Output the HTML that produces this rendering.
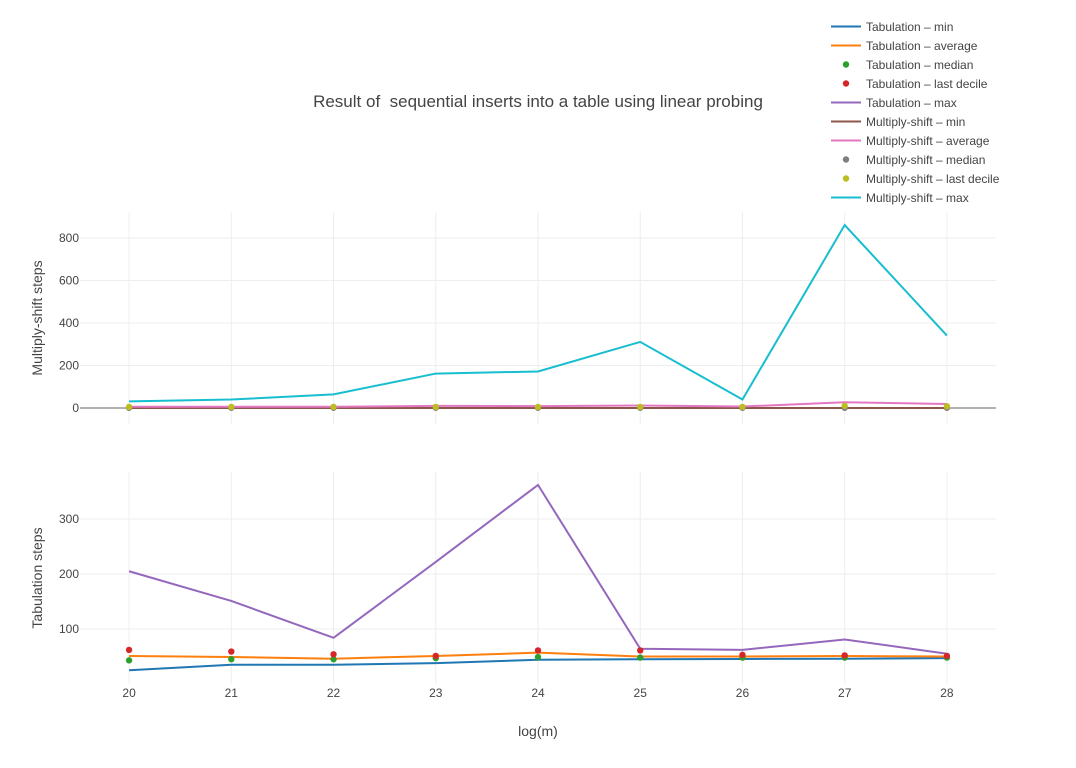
<!DOCTYPE html>
<html><head><meta charset="utf-8"><style>
body{margin:0;background:#fff;font-family:"Liberation Sans",sans-serif;}
svg text{font-family:"Liberation Sans",sans-serif;fill:#444;}
</style></head><body>
<svg id="chart" width="1076" height="763" xmlns="http://www.w3.org/2000/svg">
<text x="538" y="107" font-size="17" text-anchor="middle" style="white-space:pre">Result of  sequential inserts into a table using linear probing</text>
<text transform="translate(42,318) rotate(-90)" font-size="14" text-anchor="middle">Multiply-shift steps</text>
<text transform="translate(42,578) rotate(-90)" font-size="14" text-anchor="middle">Tabulation steps</text>
<text x="538" y="736" font-size="14" text-anchor="middle">log(m)</text>
<g id="grid"></g><g id="marks"></g><g id="legend"></g>
</svg>
<script>
const xs=[20,21,22,23,24,25,26,27,28];
const msMin=[0,0,0,0,0,0,0,0,0];
const msAvg=[6,6,6,10,9,12,7,27,19];
const msMedian=[1,1,1,1,1,1,1,1,1];
const msDecile=[5,5,5,5,5,5,5,10,8];
const msMax=[31,40,64,162,172,311,40,861,341];
const tbMin=[25,35,35,38,44,45,45.5,46,47];
const tbAvg=[51,49,46,51,57,50,50,51,50];
const tbMedian=[43,45,45,47,49,48,48,48,48];
const tbDecile=[62,59,54,51,61,61,53,52,51];
const tbMax=[205,151,84,222,362,64,62,81,55];
const topTicks=[0,200,400,600,800];
const botTicks=[100,200,300];
const NS='http://www.w3.org/2000/svg';
const X=v=>80+(v-19.52)/(28.48-19.52)*916;
const YT=v=>408-v*0.2125;
const YB=v=>684-v*0.55;
function el(t,a,p){const e=document.createElementNS(NS,t);for(const k in a)e.setAttribute(k,a[k]);p.appendChild(e);return e;}
const g=document.getElementById('grid'),m=document.getElementById('marks'),lg=document.getElementById('legend');
[[212,424],[472,684]].forEach(([a,b])=>xs.forEach(x=>{const l=el('line',{x1:X(x),x2:X(x),y1:a,y2:b,stroke:'#eee'},g);

}));
topTicks.forEach(v=>{if(v>0){const l=el('line',{x1:80,x2:996,y1:YT(v),y2:YT(v),stroke:'#eee'},g);

}
const t=el('text',{x:79,y:YT(v)+4,'font-size':12,'text-anchor':'end'},g);t.textContent=v;

});
const zl=el('line',{x1:80,x2:996,y1:YT(0),y2:YT(0),stroke:'#999','stroke-width':1.5},g);


botTicks.forEach(v=>{const l=el('line',{x1:80,x2:996,y1:YB(v),y2:YB(v),stroke:'#eee'},g);


const t=el('text',{x:79,y:YB(v)+4,'font-size':12,'text-anchor':'end'},g);t.textContent=v;

});
xs.forEach(x=>{const t=el('text',{x:X(x),y:697,'font-size':12,'text-anchor':'middle'},g);t.textContent=x;

});
function line(d,Y,c,name){const p=el('polyline',{points:d.map((v,i)=>X(xs[i])+','+Y(v)).join(' '),fill:'none',stroke:c,'stroke-width':2},m);

}
function dots(d,Y,c,name){d.forEach((v,i)=>{const e=el('circle',{cx:X(xs[i]),cy:Y(v),r:3.2,fill:c},m);

});}
line(msMin,YT,'#8c564b','multiply-shift-min-line');
line(msMax,YT,'#17becf','multiply-shift-max-line');
line(msAvg,YT,'#e377c2','multiply-shift-average-line');
dots(msMedian,YT,'#7f7f7f','multiply-shift-median-point');
dots(msDecile,YT,'#bcbd22','multiply-shift-last-decile-point');
line(tbMin,YB,'#1f77b4','tabulation-min-line');
line(tbAvg,YB,'#ff7f0e','tabulation-average-line');
line(tbMax,YB,'#9467bd','tabulation-max-line');
dots(tbMedian,YB,'#2ca02c','tabulation-median-point');
dots(tbDecile,YB,'#d62728','tabulation-last-decile-point');
const legendItems=[['Tabulation – min','#1f77b4','l'],['Tabulation – average','#ff7f0e','l'],['Tabulation – median','#2ca02c','d'],['Tabulation – last decile','#d62728','d'],['Tabulation – max','#9467bd','l'],['Multiply-shift – min','#8c564b','l'],['Multiply-shift – average','#e377c2','l'],['Multiply-shift – median','#7f7f7f','d'],['Multiply-shift – last decile','#bcbd22','d'],['Multiply-shift – max','#17becf','l']];
legendItems.forEach(([n,c,k],i)=>{const y=26.5+i*19;
if(k==='l')el('line',{x1:831,x2:861,y1:y,y2:y,stroke:c,'stroke-width':2},lg);else el('circle',{cx:846,cy:y,r:3.2,fill:c},lg);
const t=el('text',{x:866,y:y+4.5,'font-size':12},lg);t.textContent=n;

});
</script>
</body></html>
